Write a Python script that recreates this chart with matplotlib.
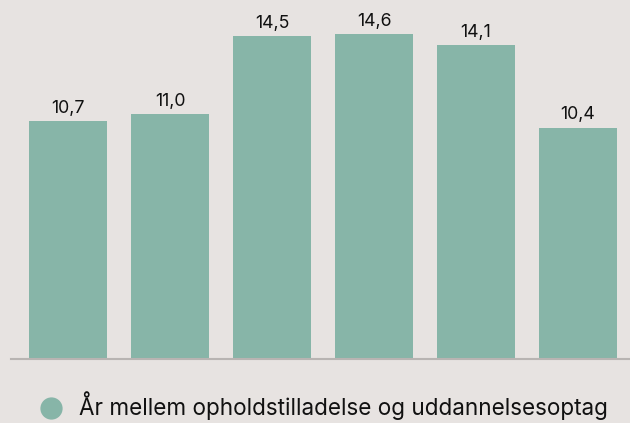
import matplotlib.pyplot as plt
from matplotlib.lines import Line2D

# Data
categories = ['1', '2', '3', '4', '5', '6']
values = [10.7, 11.0, 14.5, 14.6, 14.1, 10.4]
labels = ['10,7', '11,0', '14,5', '14,6', '14,1', '10,4']
legend_label = 'År mellem opholdstilladelse og uddannelsesoptag'

bg = '#e7e3e1'
bar_color = '#87b5a8'

plt.rcParams['font.family'] = ['Inter', 'DejaVu Sans']

fig = plt.figure(figsize=(6.3, 4.23), dpi=100, facecolor=bg)
ax = fig.add_axes([11 / 630, 64 / 423, 619 / 630, 359 / 423])
ax.set_facecolor(bg)

x = range(len(categories))
bars = ax.bar(x, values, width=0.765, color=bar_color, zorder=2)

for xi, v, lab in zip(x, values, labels):
    ax.annotate(lab, (xi, v), xytext=(0, 3), textcoords='offset points',
                ha='center', va='bottom', fontsize=12.8, color='#111111')

ax.set_xlim(-0.559, 5.51)
ax.set_ylim(0, 16.13)
for s in ['top', 'right', 'left']:
    ax.spines[s].set_visible(False)
ax.spines['bottom'].set_color('#b8b4b2')
ax.spines['bottom'].set_linewidth(1.5)
ax.spines['bottom'].set_zorder(3)
ax.set_xticks([])
ax.set_yticks([])

handle = Line2D([], [], marker='o', linestyle='none', markersize=15,
                markerfacecolor=bar_color, markeredgecolor=bar_color)
fig.legend([handle], [legend_label], loc='center left',
           bbox_to_anchor=(22 / 630, 1 - 406 / 423), frameon=False,
           fontsize=16.2, handletextpad=0.42, handlelength=1.6,
           borderpad=0, labelcolor='#111111')

fig.savefig('out.png', dpi=100, facecolor=bg)
